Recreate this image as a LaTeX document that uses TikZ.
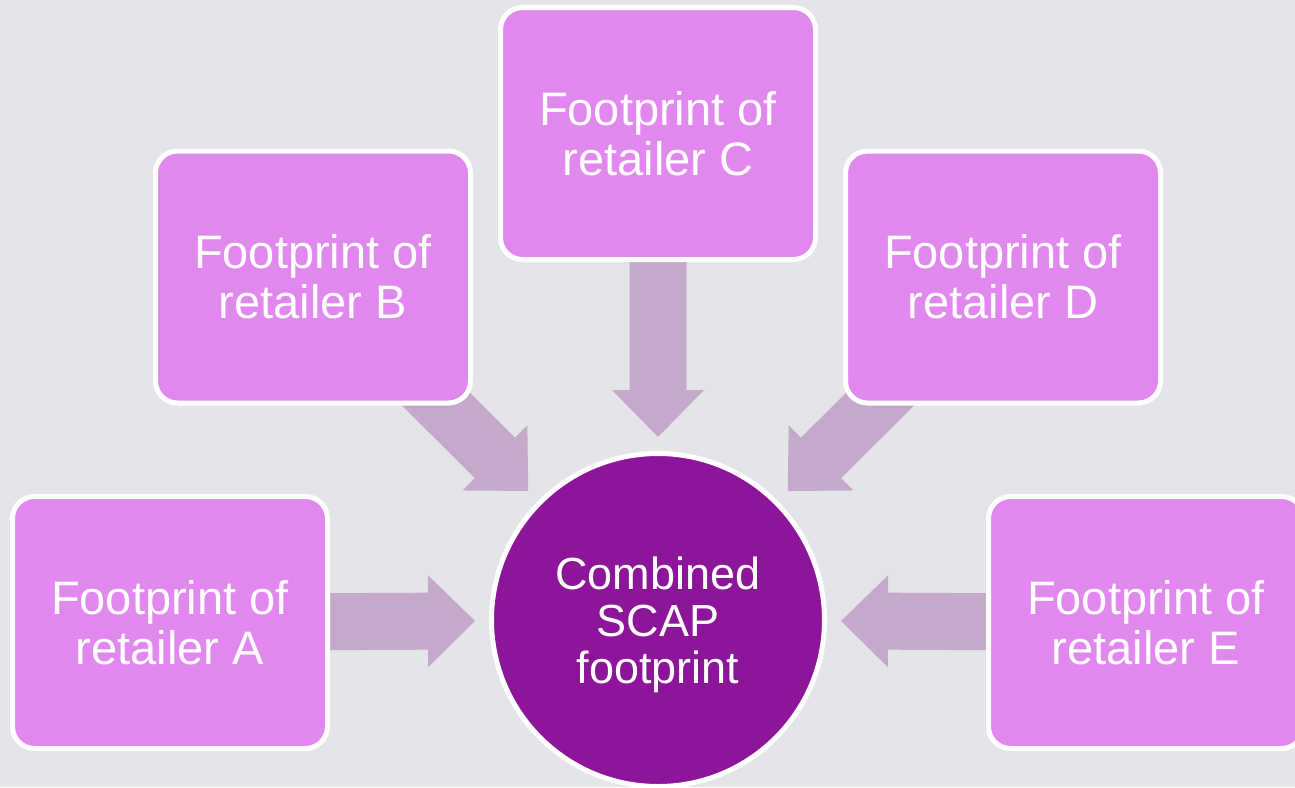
\documentclass[tikz,border=0pt]{standalone}
\usepackage{fontspec}
\setmainfont{Liberation Sans}
\usetikzlibrary{calc}
\definecolor{bgcol}{HTML}{E4E5E9}
\definecolor{boxfill}{HTML}{E188EF}
\definecolor{circfill}{HTML}{8D1599}
\definecolor{arrowfill}{HTML}{C5A9CB}
\pgfdeclarelayer{bg}
\pgfsetlayers{bg,main}
\newcommand{\blockarrow}[2]{%
  \coordinate (hb) at ($(#2)!47pt!(#1)$);
  \fill[arrowfill] ($(#1)!28.5pt!-90:(#2)$) -- ($(hb)!28.5pt!-90:(#2)$) -- ($(hb)!46pt!-90:(#2)$)
    -- (#2) -- ($(hb)!46pt!90:(#2)$) -- ($(hb)!28.5pt!90:(#2)$) -- ($(#1)!28.5pt!90:(#2)$) -- cycle;}
\begin{document}
\begin{tikzpicture}[x=1pt,y=-1pt,
  retbox/.style={rectangle, rounded corners=22pt, fill=boxfill, draw=white, line width=5pt,
    minimum width=315pt, minimum height=252pt, text=white, align=center,
    font=\fontsize{47}{50}\selectfont, inner sep=0pt},
  hub/.style={circle, fill=circfill, draw=white, line width=5pt, minimum size=333pt,
    text=white, align=center, font=\fontsize{45}{47}\selectfont, inner sep=0pt, text depth=0pt}]
\useasboundingbox (0,0) rectangle (1295,787);
\begin{pgfonlayer}{bg}
\fill[bgcol] (0,0) rectangle (1295,787);
\end{pgfonlayer}
\node[retbox] (A) at (170,622.5) {Footprint of\\retailer A};
\node[retbox] (B) at (313,277) {Footprint of\\retailer B};
\node[retbox] (C) at (658,133.5) {Footprint of\\retailer C};
\node[retbox] (D) at (1003,277) {Footprint of\\retailer D};
\node[retbox] (E) at (1146,622.5) {Footprint of\\retailer E};
\node[hub] (hubc) at (658,620) {Combined\\SCAP\\footprint};
\foreach \n in {A,B,C,D,E}{
  \coordinate (tip\n) at ($(hubc.center)!183pt!(\n.center)$);
}
\begin{pgfonlayer}{bg}
\foreach \n in {A,B,C,D,E}{
  \blockarrow{\n.center}{tip\n}
}
\end{pgfonlayer}
\end{tikzpicture}
\end{document}
